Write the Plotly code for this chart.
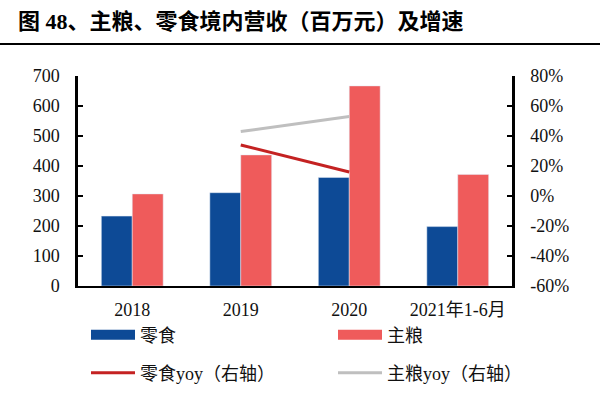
import plotly.graph_objects as go

categories = ["2018", "2019", "2020", "2021年1-6月"]
snack = [233, 311, 362, 198]
staple = [307, 437, 667, 372]
snack_yoy = [None, 0.34, 0.16, None]
staple_yoy = [None, 0.43, 0.53, None]
left_ticks = [0, 100, 200, 300, 400, 500, 600, 700]
right_ticks = [-0.6, -0.4, -0.2, 0, 0.2, 0.4, 0.6, 0.8]
right_labels = ["-60%", "-40%", "-20%", "0%", "20%", "40%", "60%", "80%"]

BLUE = "#0D4A96"
PINK = "#EF5B5B"
RED = "#C42222"
GRAY = "#BFBFBF"
FONT = "Liberation Serif, Noto Sans CJK SC, serif"

fig = go.Figure()
fig.add_trace(go.Bar(x=categories, y=snack, name="零食", marker_color=BLUE, showlegend=False))
fig.add_trace(go.Bar(x=categories, y=staple, name="主粮", marker_color=PINK, showlegend=False))
fig.add_trace(go.Scatter(x=categories, y=snack_yoy, name="零食yoy（右轴）", mode="lines",
                         line=dict(color=RED, width=3), yaxis="y2", showlegend=False))
fig.add_trace(go.Scatter(x=categories, y=staple_yoy, name="主粮yoy（右轴）", mode="lines",
                         line=dict(color=GRAY, width=3), yaxis="y2", showlegend=False))

# legend-only proxies, one legend box each
fig.add_trace(go.Scatter(x=[None], y=[None], name="零食", mode="lines",
                         line=dict(color=BLUE, width=13), legend="legend"))
fig.add_trace(go.Scatter(x=[None], y=[None], name="主粮", mode="lines",
                         line=dict(color=PINK, width=13), legend="legend2"))
fig.add_trace(go.Scatter(x=[None], y=[None], name="零食yoy（右轴）", mode="lines",
                         line=dict(color=RED, width=3), legend="legend3"))
fig.add_trace(go.Scatter(x=[None], y=[None], name="主粮yoy（右轴）", mode="lines",
                         line=dict(color=GRAY, width=3), legend="legend4"))

legend_common = dict(orientation="h", xref="container", yref="container", xanchor="left",
                     yanchor="middle", font=dict(family=FONT, size=18, color="#111"),
                     bgcolor="rgba(0,0,0,0)", itemwidth=44, borderwidth=0)

fig.update_layout(
    width=600, height=399,
    margin=dict(l=78, r=88, t=76, b=113, autoexpand=False),
    paper_bgcolor="white", plot_bgcolor="white",
    barmode="group", bargap=0.43, bargroupgap=0,
    font=dict(family=FONT, size=18, color="#111"),
    title=dict(text="<b>图 48、主粮、零食境内营收（百万元）及增速</b>",
               x=0.03, xanchor="left", xref="container", y=1 - 21 / 399, yanchor="middle",
               font=dict(family=FONT, size=22, color="#000")),
    xaxis=dict(showline=True, linecolor="#000", linewidth=2, ticks="", showgrid=False,
               tickfont=dict(family=FONT, size=18), ticklabelstandoff=6),
    yaxis=dict(range=[0, 700], tickvals=left_ticks, showline=True, linecolor="#000", linewidth=2.5,
               ticks="inside", ticklen=5, tickwidth=2, tickcolor="#000", showgrid=False,
               zeroline=False, ticklabelstandoff=12, tickfont=dict(family=FONT, size=18)),
    yaxis2=dict(range=[-0.6, 0.8], tickvals=right_ticks, ticktext=right_labels,
                overlaying="y", side="right",
                showline=True, linecolor="#000", linewidth=2.5, ticks="inside", ticklen=5,
                tickwidth=2, tickcolor="#000", showgrid=False, zeroline=False,
                ticklabelstandoff=12, tickfont=dict(family=FONT, size=18)),
    legend=dict(x=86 / 600, y=1 - 335 / 399, **legend_common),
    legend2=dict(x=333 / 600, y=1 - 335 / 399, **legend_common),
    legend3=dict(x=86 / 600, y=1 - 373 / 399, **legend_common),
    legend4=dict(x=333 / 600, y=1 - 373 / 399, **legend_common),
    shapes=[dict(type="line", xref="paper", yref="paper", x0=-78 / 434, x1=(600 - 78) / 434,
                 y0=1 + 32 / 210, y1=1 + 32 / 210, line=dict(color="#000", width=2))],
)

fig.write_html("out.html", config={"displayModeBar": False},
               post_script="document.body.style.margin='0';")
